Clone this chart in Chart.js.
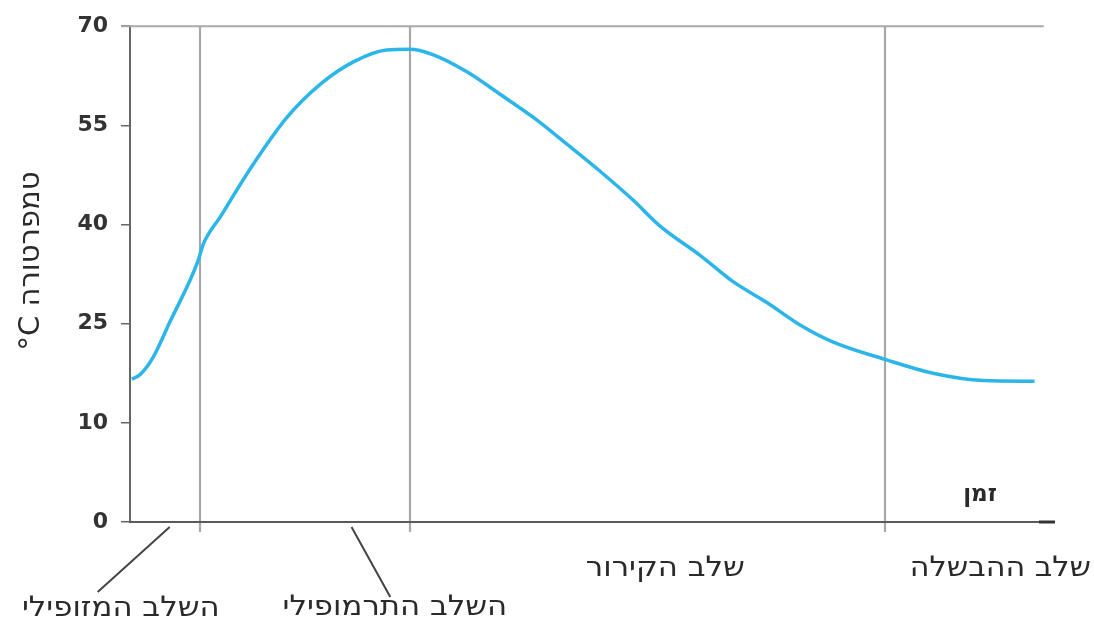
<!DOCTYPE html>
<html>
<head>
<meta charset="utf-8">
<script src="https://cdn.jsdelivr.net/npm/chart.js@4.4.1/dist/chart.umd.min.js"></script>
<style>
  html,body{margin:0;padding:0;background:#fff;}
  #wrap{width:1094px;height:625px;position:relative;}
</style>
</head>
<body>
<div id="wrap"><canvas id="c" width="1094" height="625"></canvas></div>
<script>
// ---- data (time in arbitrary units 0..100, temperature in °C) ----
const times = [0.2, 1.1, 2.5, 4.3, 7.4, 7.9, 9.8, 13.3, 17.0, 20.6, 24.2, 27.8, 30.3, 32.8, 36.5, 40.1, 43.7, 47.3, 50.9, 54.5, 57.4, 61.8, 65.3, 69.0, 72.6, 76.2, 81.8, 87.0, 92.4, 98.0];
const temps = [16.6, 17.3, 19.9, 25.2, 34.6, 36.9, 41.2, 49.0, 56.2, 61.2, 64.6, 66.4, 66.5, 65.7, 63.1, 59.7, 56.2, 52.2, 48.1, 43.7, 39.8, 35.3, 31.4, 28.2, 24.8, 22.2, 19.6, 17.5, 16.4, 16.3];
const yTickLabels = [0, 10, 25, 40, 55, 70];
const stageBoundaries = [7.6, 30.3, 81.8];
const stageNames = ['השלב המזופילי', 'השלב התרמופילי', 'שלב הקירור', 'שלב ההבשלה'];
const xAxisTitle = 'זמן';
const yAxisTitle = 'טמפרטורה C°';

// the temperature axis has evenly spaced, unevenly valued ticks: map value -> tick position
function toPos(v) {
  for (let i = 0; i < yTickLabels.length - 1; i++) {
    if (v <= yTickLabels[i + 1] || i === yTickLabels.length - 2) {
      return i + (v - yTickLabels[i]) / (yTickLabels[i + 1] - yTickLabels[i]);
    }
  }
}
const points = times.map((t, i) => ({ x: t, y: toPos(temps[i]) }));

const HEB = '"DejaVu Sans", "Liberation Sans", sans-serif';

function stretchedText(ctx, txt, cx, cy, sx) {
  ctx.save();
  ctx.translate(cx, cy);
  ctx.scale(sx, 1);
  ctx.fillText(txt, 0, 0);
  ctx.restore();
}

const decor = {
  id: 'decor',
  beforeDatasetsDraw(chart) {
    const { ctx, chartArea: a, scales: { x, y } } = chart;
    ctx.save();
    const yTop = y.getPixelForValue(yTickLabels.length - 1);
    ctx.strokeStyle = '#a8a8a8';
    ctx.lineWidth = 2;
    ctx.beginPath();
    ctx.moveTo(a.left - 9, yTop);
    ctx.lineTo(x.getPixelForValue(99), yTop);
    ctx.stroke();
    ctx.strokeStyle = '#a8a8a8';
    ctx.lineWidth = 2.2;
    stageBoundaries.forEach(t => {
      const px = Math.round(x.getPixelForValue(t));
      ctx.beginPath();
      ctx.moveTo(px, yTop);
      ctx.lineTo(px, a.bottom + 10);
      ctx.stroke();
    });
    ctx.restore();
  },
  afterDraw(chart) {
    const { ctx, chartArea: a, scales: { x, y } } = chart;
    ctx.save();
    const y0 = y.getPixelForValue(0);
    ctx.strokeStyle = '#5a5a5a';
    ctx.lineWidth = 2;
    ctx.beginPath();
    ctx.moveTo(a.left - 1, y0);
    ctx.lineTo(a.right - 5, y0);
    ctx.stroke();
    ctx.lineWidth = 3;
    ctx.strokeStyle = '#333';
    ctx.beginPath();
    ctx.moveTo(a.right - 14, y0);
    ctx.lineTo(a.right + 2, y0);
    ctx.stroke();

    ctx.fillStyle = '#2a2a2a';
    ctx.direction = 'rtl';
    ctx.textAlign = 'center';
    ctx.textBaseline = 'middle';

    ctx.font = 'bold 23px ' + HEB;
    ctx.fillText(xAxisTitle, x.getPixelForValue(92.1), y0 - 27);

    ctx.font = '28px ' + HEB;
    const labelT = [-1.0, 28.7, 58.0, 94.3];
    const labelDy = [87, 86, 47, 47];
    const labelSx = [1.1, 1.1, 1.1, 1.08];
    stageNames.forEach((s, i) => {
      stretchedText(ctx, s, x.getPixelForValue(labelT[i]), y0 + labelDy[i], labelSx[i]);
    });

    ctx.strokeStyle = '#444';
    ctx.lineWidth = 2;
    ctx.beginPath();
    ctx.moveTo(x.getPixelForValue(4.3), y0 + 5);
    ctx.lineTo(x.getPixelForValue(-3.5), y0 + 70);
    ctx.moveTo(x.getPixelForValue(24.0), y0 + 5);
    ctx.lineTo(x.getPixelForValue(28.2), y0 + 75);
    ctx.stroke();

    ctx.translate(31, 261);
    ctx.rotate(-Math.PI / 2);
    ctx.font = '29px ' + HEB;
    ctx.fillText(yAxisTitle, 0, 0);
    ctx.restore();
  }
};

new Chart(document.getElementById('c'), {
  type: 'line',
  data: {
    datasets: [{
      data: points,
      borderColor: '#2cb5e8',
      borderWidth: 3.5,
      pointRadius: 0,
      fill: false,
      cubicInterpolationMode: 'monotone'
    }]
  },
  options: {
    responsive: false,
    animation: false,
    events: [],
    layout: { padding: { top: 21, right: 41, bottom: 103, left: 0 } },
    plugins: { legend: { display: false }, tooltip: { enabled: false } },
    scales: {
      x: { type: 'linear', min: 0, max: 100, display: false },
      y: {
        type: 'linear', min: 0, max: yTickLabels.length - 1,
        afterFit(s) { s.width = 130; },
        ticks: {
          stepSize: 1,
          padding: 13,
          color: '#333',
          font: { family: '"DejaVu Sans", sans-serif', weight: 'bold', size: 22 },
          callback: v => yTickLabels[v]
        },
        grid: { drawOnChartArea: false, drawTicks: true, tickLength: 9, color: '#666', lineWidth: 1.5 },
        border: { display: true, color: '#666', width: 2 }
      }
    }
  },
  plugins: [decor]
});
</script>
</body>
</html>
